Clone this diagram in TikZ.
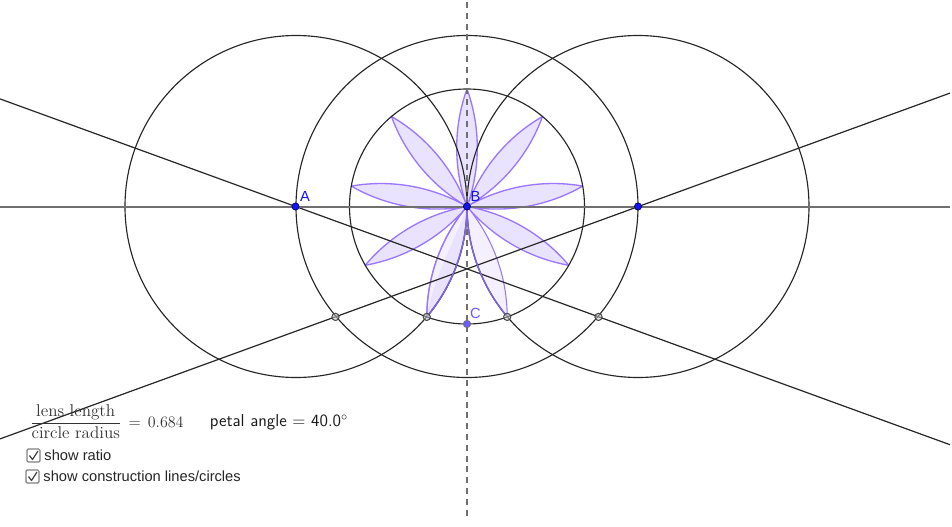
\documentclass[tikz,border=0pt]{standalone}
\usepackage{fontspec}
\usepackage{amsmath}
\newfontfamily\uifont{Liberation Sans}
\definecolor{ptblue}{HTML}{1414F0}
\definecolor{ptviolet}{HTML}{6A5CFF}
\definecolor{petaledge}{HTML}{9B77FF}
\definecolor{petalinner}{HTML}{7D66D8}
\definecolor{petalfill}{HTML}{EAE3FF}
\definecolor{petallight}{HTML}{F4F0FF}
\definecolor{axisgrey}{HTML}{707070}
\tikzset{
  x=0.75pt,y=0.75pt,
  every node/.style={inner sep=0pt,outer sep=0pt},
  circleline/.style={draw=black!85,line width=0.85pt},
  conline/.style={draw=black!85,line width=0.9pt},
  axisline/.style={draw=axisgrey,line width=1.5pt},
  dashline/.style={draw=axisgrey,line width=1.5pt,dash pattern=on 4.5pt off 3.6pt},
  petal/.style={fill=petalfill,draw=petaledge,line width=1pt,line join=round},
  petalpale/.style={fill=petallight,draw=petaledge,line width=0.8pt,line join=round},
  inneredge/.style={draw=petalinner,line width=1.1pt},
  bluept/.style={circle,fill=ptblue,draw=black!60!blue,line width=0.5pt,minimum size=5.4pt},
  violetpt/.style={circle,fill=ptviolet,draw=black!55,line width=0.5pt,minimum size=5.6pt},
  tippt/.style={circle,fill=gray!40,fill opacity=0.5,draw=black!70,line width=0.8pt,minimum size=5.4pt},
  ptlabel/.style={font=\uifont\fontsize{11}{13}\selectfont},
  uitext/.style={anchor=west,font=\uifont\fontsize{11}{13}\selectfont,text=black!85},
  tickbox/.style={draw=black!50,fill=white,rounded corners=1pt,line width=0.9pt},
  tickmark/.style={draw=black!75,line width=0.9pt,line join=round}
}
\begin{document}
\begin{tikzpicture}
\useasboundingbox (-467,-319.5) rectangle (485,206.5);
\fill[white] (-467,-319.5) rectangle (485,206.5);
% named construction points (origin = B)
\coordinate (lineLa) at (-467,107.6);
\coordinate (lineLb) at (483,-238.2);
\coordinate (lineRa) at (-467,-232.4);
\coordinate (lineRb) at (483,113.4);
\coordinate (axisW) at (-467,0);
\coordinate (axisE) at (483,0);
\coordinate (axisN) at (0,204.5);
\coordinate (axisS) at (0,-313.5);
% petals
\foreach \t in {90,50,10,-30,-150,130,170}{
  \path[petal] (0,0) to[out=\t+20,in=\t+160,looseness=.875] (\t:117.5)
     to[out=\t+200,in=\t-20,looseness=.875] cycle;
}
\path[petalpale] (0,0) to[out=-50,in=-70+160,looseness=.875] (-70:117.5)
     to[out=-70+200,in=-90,looseness=.875] cycle;
\path[petalpale] (0,0) to[out=-90,in=-110+160,looseness=.875] (-110:117.5)
     to[out=-110+200,in=-130,looseness=.875] cycle;
\path[fill=petalfill] (0,0) to[out=-90,in=-110+160,looseness=.875] (-110:117.5)
     to[out=80,in=-110,looseness=.9] cycle;
\path[petal,fill=none] (0,0) to[out=-90,in=-110+160,looseness=.875] (-110:117.5)
     to[out=-110+200,in=-130,looseness=.875] cycle;
% construction circles
\draw[circleline] (-171,0) circle[radius=171];
\draw[circleline] (0,0) circle[radius=171];
\draw[circleline] (171,0) circle[radius=171];
\draw[circleline] (0,0) circle[radius=117.5];
% lines
\draw[conline] (lineLa) -- (lineLb);
\draw[conline] (lineRa) -- (lineRb);
\draw[axisline] (axisW) -- (axisE);
\draw[dashline] (axisN) -- (axisS);
% inner edges of the two lower petals, lying over the side circles
\draw[inneredge] (0,0) arc[start angle=0,end angle=-40,radius=171];
\draw[inneredge] (0,0) arc[start angle=180,end angle=220,radius=171];
% points
\node[bluept] (A) at (-171.5,0) {};
\node[bluept] (B) at (0,0) {};
\node[bluept] (D) at (171,0) {};
\node[violetpt] (C) at (0,-117.5) {};
\node[tippt] (t1) at (-131.5,-110.4) {};
\node[tippt] (t2) at (-40.2,-110.4) {};
\node[tippt] (t3) at (40.2,-110.4) {};
\node[tippt] (t4) at (131.5,-110.4) {};
\node[ptlabel,text=ptblue] (la) at (-162,10.5) {A};
\node[ptlabel,text=ptblue] (lb) at (8.5,10.5) {B};
\node[ptlabel,text=ptviolet] (lc) at (8.5,-107) {C};
% formula
\node[anchor=west,font=\fontsize{12.8}{15}\selectfont,text=black!80] (ratio) at (-437,-215.5)
  {$\dfrac{\mathrm{lens\ length}}{\mathrm{circle\ radius}}\,=\,0.684$};
\node[anchor=west,font=\sffamily\fontsize{12.9}{15}\selectfont,text=black!90] (angle) at (-257,-215.5)
  {petal angle = 40.0$^\circ$};
% check boxes
\draw[tickbox] (-440,-255.5) rectangle (-427,-242.5);
\draw[tickmark] (-437.5,-249) -- (-434.5,-253) -- (-429,-244.5);
\draw[tickbox] (-441,-276.5) rectangle (-428,-263.5);
\draw[tickmark] (-438.5,-270) -- (-435.5,-274) -- (-430,-265.5);
\node[uitext] (s1) at (-422.5,-249) {show ratio};
\node[uitext] (s2) at (-423.5,-270) {show construction lines/circles};
\end{tikzpicture}
\end{document}
